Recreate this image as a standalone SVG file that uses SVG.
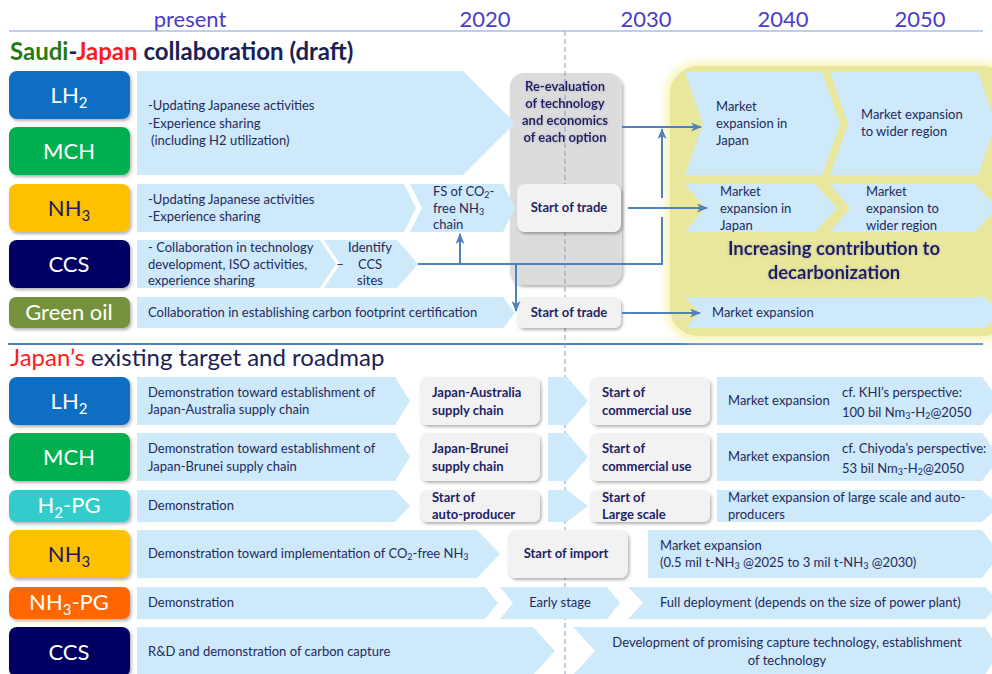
<svg xmlns="http://www.w3.org/2000/svg" width="992" height="674" viewBox="0 0 992 674">
<defs>
<style>
text{font-family:Lato,"Liberation Sans",sans-serif;}
.hdr{font-size:22px;fill:#4A3CCB;text-anchor:middle;}
.lbl{font-size:22px;fill:#ffffff;text-anchor:middle;}
.lbd{font-size:22px;fill:#1A1A66;text-anchor:middle;}
.t{font-size:13px;fill:#252A5C;}
.b{font-size:13px;fill:#1F1F66;font-weight:bold;}
.arr{fill:#CDE9FA;}
.box{fill:#F2F2F2;}
.conn{stroke:#4F81BD;stroke-width:2;fill:none;}
.s{font-size:9px;}
</style>
<filter id="sh" x="-20%" y="-20%" width="140%" height="150%"><feDropShadow dx="1.5" dy="2" stdDeviation="1.5" flood-color="#000" flood-opacity="0.3"/></filter>
<filter id="glow" x="-10%" y="-10%" width="120%" height="120%"><feGaussianBlur stdDeviation="4"/></filter>
<filter id="tglow" x="-10%" y="-30%" width="120%" height="160%"><feDropShadow dx="0" dy="0" stdDeviation="1.5" flood-color="#8888aa" flood-opacity="0.5"/></filter>
<marker id="ah" markerWidth="11" markerHeight="9" refX="10" refY="4.5" orient="auto" markerUnits="userSpaceOnUse"><path d="M0,0 L11,4.5 L0,9 L3,4.5 z" fill="#4F81BD"/></marker>
</defs>
<rect width="992" height="674" fill="#ffffff"/>

<!-- header -->
<g id="header">
<text class="hdr" x="190" y="27">present</text>
<text class="hdr" x="485" y="27">2020</text>
<text class="hdr" x="646" y="27">2030</text>
<text class="hdr" x="783" y="27">2040</text>
<text class="hdr" x="920" y="27">2050</text>
<line x1="9" y1="31" x2="983" y2="31" stroke="#7F9FD0" stroke-width="1"/>
<text x="10" y="60" font-size="24" font-weight="bold" fill="#1A2255"><tspan fill="#267A12">Saudi</tspan>-<tspan fill="#FF1A1A">Japan</tspan> collaboration (draft)</text>
<line x1="8" y1="344" x2="983" y2="344" stroke="#4A7FC0" stroke-width="2"/>
<text x="10" y="366" font-size="24" fill="#1A2255"><tspan fill="#FF1A1A">Japan’s</tspan> existing target and roadmap</text>
</g>

<!-- yellow area -->
<g id="yellow-area">
<rect x="665" y="62" width="350" height="279" rx="32" fill="#F8F5B8" filter="url(#glow)"/>
<rect x="670" y="66" width="340" height="270" rx="28" fill="#E8E79B"/>
</g>

<!-- gray column -->
<g id="reeval-col">
<rect x="510" y="73" width="112" height="212" rx="14" fill="#DCDCDC" filter="url(#sh)"/>
</g>

<line x1="565" y1="31" x2="565" y2="674" stroke="#7FA0CF" stroke-width="1" stroke-dasharray="5,3"/>

<!-- top section arrows -->
<g id="top-arrows">
<polygon class="arr" points="137,71 463,71 515,123 463,175 137,175"/>
<polygon class="arr" points="137,184 404,184 416,208 404,232 137,232"/>
<polygon class="arr" points="410,184 503,184 515,208 503,232 410,232 422,208"/>
<polygon class="arr" points="137,240 320,240 336,264 320,288 137,288"/>
<polygon class="arr" points="324,240 397,240 418,264 397,288 324,288 340,264"/>
<polygon class="arr" points="137,297 503,297 515,313 503,328 137,328"/>
<polygon class="arr" points="685,72 822,72 840,124 822,175 685,175 703,124"/>
<polygon class="arr" points="830,72 978,72 996,124 978,175 830,175 848,124"/>
<polygon class="arr" points="685,184 815,184 837,208 815,232 685,232 705,208"/>
<polygon class="arr" points="830,184 975,184 997,208 975,232 830,232 850,208"/>
<polygon class="arr" points="685,297 985,297 1000,313 985,328 685,328 700,313"/>
</g>

<!-- top labels -->
<g id="top-LH2"><rect x="9" y="71" width="121" height="48" rx="8" fill="#0E6EC4" filter="url(#sh)"/><text class="lbl" x="69" y="103">LH<tspan font-size="15" dy="5">2</tspan></text></g>
<g id="top-MCH"><rect x="9" y="127" width="121" height="48" rx="8" fill="#00B050" filter="url(#sh)"/><text class="lbl" x="69" y="159">MCH</text></g>
<g id="top-NH3"><rect x="9" y="184" width="121" height="48" rx="8" fill="#FFC000" filter="url(#sh)"/><text class="lbd" x="69" y="216">NH<tspan font-size="15" dy="5">3</tspan></text></g>
<g id="top-CCS"><rect x="9" y="240" width="121" height="48" rx="8" fill="#000064" filter="url(#sh)"/><text class="lbl" x="69" y="272">CCS</text></g>
<g id="top-GreenOil"><rect x="9" y="297" width="121" height="31" rx="7" fill="#76923C" filter="url(#sh)"/><text class="lbl" x="69" y="320">Green oil</text></g>

<!-- top texts -->
<g id="top-texts">
<text class="t" x="148" y="110">-Updating Japanese activities</text>
<text class="t" x="148" y="128">-Experience sharing</text>
<text class="t" x="151" y="145">(including H2 utilization)</text>
<text class="t" x="148" y="204">-Updating Japanese activities</text>
<text class="t" x="148" y="221">-Experience sharing</text>
<text class="t" x="433" y="196">FS of CO<tspan class="s" dy="2">2</tspan><tspan dy="-2">-</tspan></text>
<text class="t" x="433" y="213">free NH<tspan class="s" dy="2">3</tspan></text>
<text class="t" x="433" y="229">chain</text>
<text class="t" x="148" y="252">- Collaboration in technology</text>
<text class="t" x="148" y="269">development, ISO activities,</text>
<text class="t" x="148" y="285">experience sharing</text>
<text class="t" x="340" y="269" text-anchor="middle">–</text>
<text class="t" x="370" y="252" text-anchor="middle">Identify</text>
<text class="t" x="370" y="269" text-anchor="middle">CCS</text>
<text class="t" x="370" y="285" text-anchor="middle">sites</text>
<text class="t" x="148" y="317">Collaboration in establishing carbon footprint certification</text>
</g>

<g id="reeval-text" filter="url(#tglow)">
<text class="b" x="565" y="91" text-anchor="middle">Re-evaluation</text>
<text class="b" x="565" y="108" text-anchor="middle">of technology</text>
<text class="b" x="565" y="125" text-anchor="middle">and economics</text>
<text class="b" x="565" y="142" text-anchor="middle">of each option</text>
</g>

<g id="trade-NH3"><rect x="517" y="184" width="104" height="48" rx="8" class="box" filter="url(#sh)"/><text class="b" x="569" y="212" text-anchor="middle">Start of trade</text></g>
<g id="trade-oil"><rect x="517" y="297" width="104" height="31" rx="7" class="box" filter="url(#sh)"/><text class="b" x="569" y="317" text-anchor="middle">Start of trade</text></g>

<g id="yellow-texts">
<text class="t" x="716" y="111">Market</text>
<text class="t" x="716" y="128">expansion in</text>
<text class="t" x="716" y="145">Japan</text>
<text class="t" x="861" y="119">Market expansion</text>
<text class="t" x="861" y="136">to wider region</text>
<text class="t" x="720" y="196">Market</text>
<text class="t" x="720" y="213">expansion in</text>
<text class="t" x="720" y="230">Japan</text>
<text class="t" x="866" y="196">Market</text>
<text class="t" x="866" y="213">expansion to</text>
<text class="t" x="866" y="230">wider region</text>
<text class="t" x="712" y="317">Market expansion</text>
<g filter="url(#tglow)">
<text x="834" y="255" text-anchor="middle" font-size="18.5" font-weight="bold" fill="#1F1F66">Increasing contribution to</text>
<text x="834" y="279" text-anchor="middle" font-size="18.5" font-weight="bold" fill="#1F1F66">decarbonization</text>
</g>
</g>

<!-- connectors -->
<g id="connectors">
<path class="conn" d="M622,127 L701,127" marker-end="url(#ah)"/>
<path class="conn" d="M418,264 L662,264 L662,217"/>
<path class="conn" d="M662,198 L662,129" marker-end="url(#ah)"/>
<path class="conn" d="M628,208 L707,208" marker-end="url(#ah)"/>
<path class="conn" d="M460,264 L460,234" marker-end="url(#ah)"/>
<path class="conn" d="M516,264 L516,311" marker-end="url(#ah)"/>
<path class="conn" d="M622,313 L700,313" marker-end="url(#ah)"/>
</g>

<!-- bottom arrows -->
<g id="bottom-arrows">
<polygon class="arr" points="137,377 395,377 410,401 395,425 137,425"/>
<polygon class="arr" points="548,377 567,377 588,401 567,425 548,425"/>
<polygon class="arr" points="717,377 982,377 1000,401 982,425 717,425"/>
<polygon class="arr" points="137,433 395,433 410,457 395,481 137,481"/>
<polygon class="arr" points="548,433 567,433 588,457 567,481 548,481"/>
<polygon class="arr" points="717,433 982,433 1000,457 982,481 717,481"/>
<polygon class="arr" points="137,490 395,490 410,506 395,522 137,522"/>
<polygon class="arr" points="548,490 567,490 588,506 567,522 548,522"/>
<polygon class="arr" points="717,490 982,490 1000,506 982,522 717,522"/>
<polygon class="arr" points="137,530 477,530 500,554 477,578 137,578"/>
<polygon class="arr" points="648,530 982,530 1000,554 982,578 648,578"/>
<polygon class="arr" points="137,587 485,587 498,603 485,619 137,619"/>
<polygon class="arr" points="500,587 607,587 620,603 607,619 500,619 513,603"/>
<polygon class="arr" points="628,587 985,587 1000,603 985,619 628,619 643,603"/>
<polygon class="arr" points="137,627 533,627 555,651 533,675 137,675"/>
<polygon class="arr" points="573,627 985,627 1000,651 985,675 573,675 595,651"/>
</g>

<!-- bottom labels -->
<g id="bot-LH2"><rect x="9" y="377" width="121" height="48" rx="8" fill="#0E6EC4" filter="url(#sh)"/><text class="lbl" x="69" y="409">LH<tspan font-size="15" dy="5">2</tspan></text></g>
<g id="bot-MCH"><rect x="9" y="433" width="121" height="48" rx="8" fill="#00B050" filter="url(#sh)"/><text class="lbl" x="69" y="465">MCH</text></g>
<g id="bot-H2PG"><rect x="9" y="490" width="121" height="32" rx="7" fill="#33CCCC" filter="url(#sh)"/><text class="lbl" x="69" y="513">H<tspan font-size="15" dy="5">2</tspan><tspan dy="-5">-PG</tspan></text></g>
<g id="bot-NH3"><rect x="9" y="530" width="121" height="48" rx="8" fill="#FFC000" filter="url(#sh)"/><text class="lbd" x="69" y="562">NH<tspan font-size="15" dy="5">3</tspan></text></g>
<g id="bot-NH3PG"><rect x="9" y="587" width="121" height="32" rx="7" fill="#FF6600" filter="url(#sh)"/><text class="lbl" x="69" y="610">NH<tspan font-size="15" dy="5">3</tspan><tspan dy="-5">-PG</tspan></text></g>
<g id="bot-CCS"><rect x="9" y="627" width="121" height="50" rx="8" fill="#000064" filter="url(#sh)"/><text class="lbl" x="69" y="660">CCS</text></g>

<!-- bottom boxes -->
<g id="box-JA"><rect x="420" y="377" width="120" height="48" rx="8" class="box" filter="url(#sh)"/><text class="b" x="432" y="397">Japan-Australia</text><text class="b" x="432" y="415">supply chain</text></g>
<g id="box-CU1"><rect x="590" y="377" width="120" height="48" rx="8" class="box" filter="url(#sh)"/><text class="b" x="602" y="397">Start of</text><text class="b" x="602" y="415">commercial use</text></g>
<g id="box-JB"><rect x="420" y="433" width="120" height="48" rx="8" class="box" filter="url(#sh)"/><text class="b" x="432" y="453">Japan-Brunei</text><text class="b" x="432" y="471">supply chain</text></g>
<g id="box-CU2"><rect x="590" y="433" width="120" height="48" rx="8" class="box" filter="url(#sh)"/><text class="b" x="602" y="453">Start of</text><text class="b" x="602" y="471">commercial use</text></g>
<g id="box-AP"><rect x="420" y="490" width="120" height="32" rx="7" class="box" filter="url(#sh)"/><text class="b" x="432" y="502">Start of</text><text class="b" x="432" y="519">auto-producer</text></g>
<g id="box-LS"><rect x="590" y="490" width="120" height="32" rx="7" class="box" filter="url(#sh)"/><text class="b" x="602" y="502">Start of</text><text class="b" x="602" y="519">Large scale</text></g>
<g id="box-IM"><rect x="508" y="530" width="120" height="48" rx="8" class="box" filter="url(#sh)"/><text class="b" x="566" y="558" text-anchor="middle">Start of import</text></g>

<!-- bottom texts -->
<g id="bottom-texts">
<text class="t" x="148" y="397">Demonstration toward establishment of</text>
<text class="t" x="148" y="414">Japan-Australia supply chain</text>
<text class="t" x="728" y="405">Market expansion</text>
<text class="t" x="842" y="397">cf. KHI’s perspective:</text>
<text class="t" x="842" y="417">100 bil Nm<tspan class="s" dy="2">3</tspan><tspan dy="-2">-H</tspan><tspan class="s" dy="2">2</tspan><tspan dy="-2">@2050</tspan></text>
<text class="t" x="148" y="453">Demonstration toward establishment of</text>
<text class="t" x="148" y="471">Japan-Brunei supply chain</text>
<text class="t" x="728" y="461">Market expansion</text>
<text class="t" x="842" y="453">cf. Chiyoda’s perspective:</text>
<text class="t" x="842" y="473">53 bil Nm<tspan class="s" dy="2">3</tspan><tspan dy="-2">-H</tspan><tspan class="s" dy="2">2</tspan><tspan dy="-2">@2050</tspan></text>
<text class="t" x="148" y="510">Demonstration</text>
<text class="t" x="728" y="502">Market expansion of large scale and auto-</text>
<text class="t" x="728" y="519">producers</text>
<text class="t" x="148" y="558">Demonstration toward implementation of CO<tspan class="s" dy="2">2</tspan><tspan dy="-2">-free NH</tspan><tspan class="s" dy="2">3</tspan></text>
<text class="t" x="660" y="550">Market expansion</text>
<text class="t" x="660" y="567">(0.5 mil t-NH<tspan class="s" dy="2">3</tspan><tspan dy="-2"> @2025 to 3 mil t-NH</tspan><tspan class="s" dy="2">3</tspan><tspan dy="-2"> @2030)</tspan></text>
<text class="t" x="148" y="607">Demonstration</text>
<text class="t" x="560" y="607" text-anchor="middle">Early stage</text>
<text class="t" x="660" y="607">Full deployment (depends on the size of power plant)</text>
<text class="t" x="148" y="656">R&amp;D and demonstration of carbon capture</text>
<text class="t" x="787" y="647" text-anchor="middle">Development of promising capture technology, establishment</text>
<text class="t" x="787" y="665" text-anchor="middle">of technology</text>
</g>
</svg>
